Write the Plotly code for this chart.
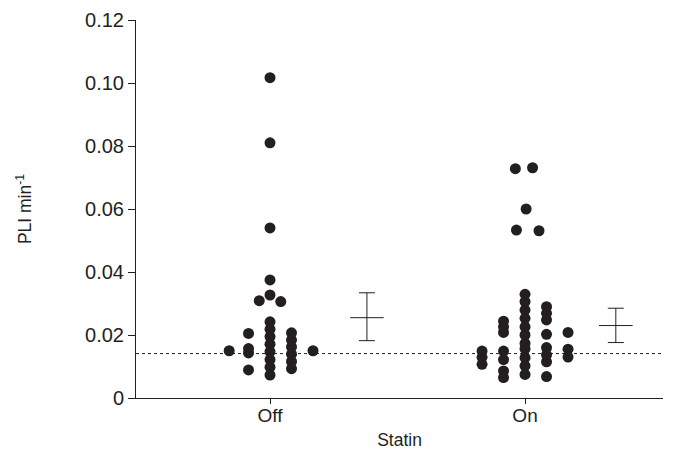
import plotly.graph_objects as go

# ---- data ----
categories = ["Off", "On"]
cat_pos = [1, 2]

# PLI min^-1 values per group, and beeswarm slot (column index) for each dot
off_values = [0.1017, 0.081, 0.054, 0.0375,
              0.0309, 0.0327, 0.0306,
              0.0242, 0.0218, 0.0195, 0.0171, 0.0147, 0.0122, 0.0098, 0.0073,
              0.0207, 0.0184, 0.0162, 0.0139, 0.0116, 0.0093,
              0.0150,
              0.0205, 0.0157, 0.0143, 0.0089,
              0.0150]
off_slots = [0, 0, 0, 0,
             -0.5, 0, 0.5,
             0, 0, 0, 0, 0, 0, 0, 0,
             1, 1, 1, 1, 1, 1,
             2,
             -1, -1, -1, -1,
             -1.9]

on_values = [0.0728, 0.0731, 0.0600, 0.0533, 0.0531,
             0.0329, 0.0306, 0.0279, 0.0253, 0.0226, 0.0200, 0.0173, 0.0156, 0.0128, 0.0102, 0.0075,
             0.0290, 0.0269, 0.0248, 0.0202, 0.0160, 0.0137, 0.0115, 0.0068,
             0.0208, 0.0155, 0.0130,
             0.0244, 0.0226, 0.0208, 0.0149, 0.0122, 0.0086, 0.0065,
             0.0149, 0.0129, 0.0107]
on_slots = [-0.45, 0.35, 0.05, -0.4, 0.65,
            0, 0, 0, 0, 0, 0, 0, 0, 0, 0, 0,
            1, 1, 1, 1, 1, 1, 1, 1,
            2, 2, 2,
            -1, -1, -1, -1, -1, -1, -1,
            -2, -2, -2]

# mean and error-bar limits
summary_mean = [0.0255, 0.0230]
summary_upper = [0.0334, 0.0285]
summary_lower = [0.0182, 0.0176]

reference_level = 0.0141

# ---- layout helpers ----
col_step = 0.0843      # horizontal spacing of dot columns (category units)
summary_offset = [0.38, 0.356]

dot_color = "#231f20"

fig = go.Figure()

for pos, vals, slots in [(cat_pos[0], off_values, off_slots),
                         (cat_pos[1], on_values, on_slots)]:
    fig.add_trace(go.Scatter(
        x=[pos + s * col_step for s in slots],
        y=vals,
        mode="markers",
        marker=dict(size=11, color=dot_color, line=dict(width=0)),
        showlegend=False,
        hoverinfo="y",
    ))

fig.add_trace(go.Scatter(
    x=[p + o for p, o in zip(cat_pos, summary_offset)],
    y=summary_mean,
    mode="markers",
    marker=dict(symbol="line-ew", size=24, color=dot_color,
                line=dict(width=1, color=dot_color)),
    error_y=dict(type="data", symmetric=False,
                 array=[u - m for u, m in zip(summary_upper, summary_mean)],
                 arrayminus=[m - l for m, l in zip(summary_mean, summary_lower)],
                 color=dot_color, thickness=1, width=8),
    showlegend=False,
))

fig.add_shape(type="line", xref="paper", yref="y", x0=0, x1=1,
              y0=reference_level, y1=reference_level,
              line=dict(color=dot_color, width=1, dash="dot"))

font_family = "Liberation Sans, Arial, Helvetica, sans-serif"

fig.update_layout(
    width=676, height=450,
    margin=dict(l=128, r=21, t=12, b=60),
    paper_bgcolor="white", plot_bgcolor="white",
    font=dict(family=font_family, size=16, color="#231f20"),
    xaxis=dict(
        range=[0.4745, 2.541],
        tickvals=cat_pos, ticktext=categories,
        tickfont=dict(size=19),
        ticklabelstandoff=-5,
        showline=True, linecolor="#231f20", linewidth=1,
        ticks="outside", ticklen=5, tickcolor="#231f20",
        showgrid=False, zeroline=False, automargin=False,
        title=dict(text="Statin", standoff=8, font=dict(size=17.5)),
    ),
    yaxis=dict(
        range=[0, 0.12],
        tickvals=[0, 0.02, 0.04, 0.06, 0.08, 0.10, 0.12],
        ticktext=["0", "0.02", "0.04", "0.06", "0.08", "0.10", "0.12"],
        tickfont=dict(size=20),
        showline=True, linecolor="#231f20", linewidth=1,
        ticks="outside", ticklen=7, tickcolor="#231f20",
        showgrid=False, zeroline=False, automargin=False,
        title=dict(text="PLI min<sup>-1</sup>", standoff=48, font=dict(size=17.5)),
    ),
)

fig.write_html("out.html")
